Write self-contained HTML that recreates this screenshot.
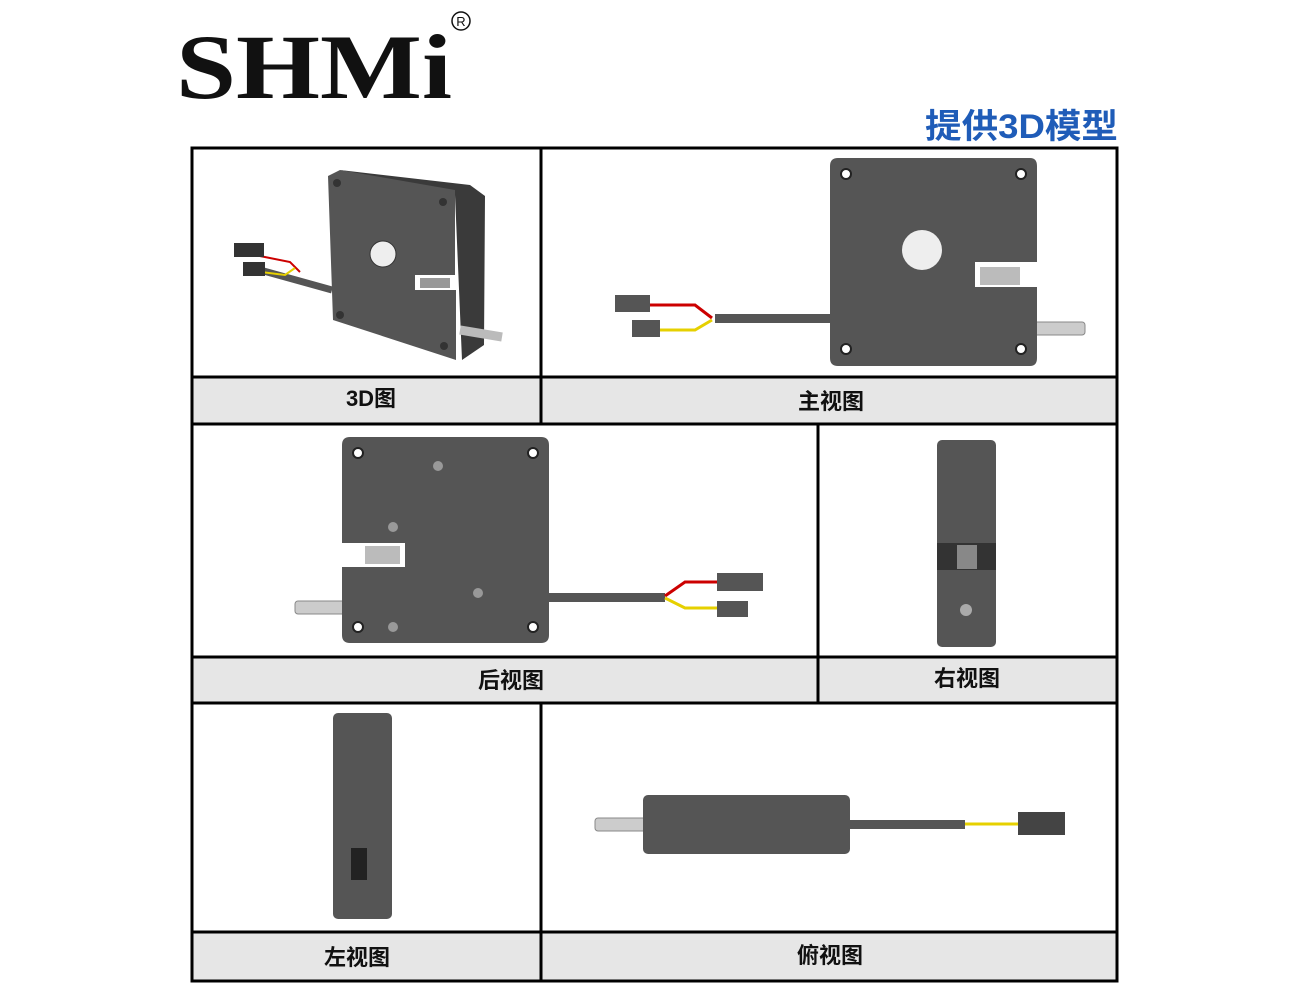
<!DOCTYPE html>
<html><head><meta charset="utf-8"><style>
html,body{margin:0;padding:0;background:#fff;width:1309px;height:1000px;overflow:hidden}
svg{display:block}
</style></head><body>
<svg width="1309" height="1000" viewBox="0 0 1309 1000" xmlns="http://www.w3.org/2000/svg">
<text x="176" y="98" font-family="Liberation Serif, serif" font-weight="bold" font-size="92" fill="#111" textLength="276" lengthAdjust="spacingAndGlyphs">SHMi</text>
<circle cx="461" cy="21" r="9" fill="none" stroke="#111" stroke-width="1.5"/>
<text x="461" y="26" text-anchor="middle" font-family="Liberation Sans, sans-serif" font-size="13" fill="#111">R</text>
<text x="925" y="138" font-family="Liberation Sans, 'Noto Sans CJK SC', sans-serif" font-weight="bold" font-size="34" fill="#1f5cb8" textLength="193" lengthAdjust="spacingAndGlyphs">提供3D模型</text>

<g fill="#e6e6e6">
<rect x="192" y="377" width="925" height="47"/>
<rect x="192" y="657" width="925" height="46"/>
<rect x="192" y="932" width="925" height="48"/>
</g>
<g stroke="#000" stroke-width="3" fill="none">
<rect x="192" y="148" width="925" height="833"/>
<line x1="192" y1="377" x2="1117" y2="377"/>
<line x1="192" y1="424" x2="1117" y2="424"/>
<line x1="192" y1="657" x2="1117" y2="657"/>
<line x1="192" y1="703" x2="1117" y2="703"/>
<line x1="192" y1="932" x2="1117" y2="932"/>
<line x1="541" y1="148" x2="541" y2="424"/>
<line x1="818" y1="424" x2="818" y2="703"/>
<line x1="541" y1="703" x2="541" y2="981"/>
</g>
<g font-family="Liberation Sans, 'Noto Sans CJK SC', sans-serif" font-weight="bold" font-size="22" fill="#111" text-anchor="middle">
<text x="371" y="406">3D图</text>
<text x="831" y="409">主视图</text>
<text x="511" y="688">后视图</text>
<text x="967" y="686">右视图</text>
<text x="357" y="965">左视图</text>
<text x="830" y="963">俯视图</text>
</g>

<!-- 3D view -->
<g>
<line x1="260" y1="270" x2="332" y2="290" stroke="#555" stroke-width="7"/>
<path d="M240 252 L290 262 L300 272" stroke="#c00" stroke-width="2" fill="none"/>
<path d="M245 270 L285 275 L295 268" stroke="#e6d000" stroke-width="2" fill="none"/>
<rect x="234" y="243" width="30" height="14" fill="#333"/>
<rect x="243" y="262" width="22" height="14" fill="#333"/>
<polygon points="340,170 470,185 485,196 484,345 462,360 455,195" fill="#3a3a3a"/>
<polygon points="328,176 340,170 455,190 455,275 415,275 415,290 456,290 456,360 333,320" fill="#555"/>
<circle cx="383" cy="254" r="13" fill="#eee" stroke="#333"/>
<rect x="420" y="278" width="30" height="10" fill="#999"/>
<line x1="460" y1="330" x2="502" y2="337" stroke="#bbb" stroke-width="9"/>
<circle cx="337" cy="183" r="4" fill="#333"/><circle cx="443" cy="202" r="4" fill="#333"/>
<circle cx="340" cy="315" r="4" fill="#333"/><circle cx="444" cy="346" r="4" fill="#333"/>
</g>

<!-- Front view -->
<g>
<rect x="1030" y="322" width="55" height="13" rx="3" fill="#ccc" stroke="#888"/>
<rect x="715" y="314" width="115" height="9" fill="#555"/>
<path d="M650 305 L695 305 L712 318" stroke="#c00" stroke-width="3" fill="none"/>
<path d="M660 330 L695 330 L712 320" stroke="#e6d000" stroke-width="3" fill="none"/>
<rect x="615" y="295" width="35" height="17" fill="#555"/>
<rect x="632" y="320" width="28" height="17" fill="#555"/>
<path d="M838 158 H1030 Q1037 158 1037 166 V262 H975 V287 H1037 V358 Q1037 366 1030 366 H838 Q830 366 830 358 V166 Q830 158 838 158Z" fill="#555"/>
<rect x="980" y="267" width="40" height="18" fill="#bbb"/>
<circle cx="922" cy="250" r="20" fill="#eee"/>
<g fill="#fff" stroke="#222" stroke-width="2"><circle cx="846" cy="174" r="5"/><circle cx="1021" cy="174" r="5"/><circle cx="846" cy="349" r="5"/><circle cx="1021" cy="349" r="5"/></g>
</g>

<!-- Back view -->
<g>
<rect x="295" y="601" width="52" height="13" rx="3" fill="#ccc" stroke="#888"/>
<rect x="549" y="593" width="116" height="9" fill="#555"/>
<path d="M665 596 L685 582 L717 582" stroke="#c00" stroke-width="3" fill="none"/>
<path d="M665 598 L685 608 L717 608" stroke="#e6d000" stroke-width="3" fill="none"/>
<rect x="717" y="573" width="46" height="18" fill="#555"/>
<rect x="717" y="601" width="31" height="16" fill="#555"/>
<path d="M350 437 H541 Q549 437 549 445 V635 Q549 643 541 643 H350 Q342 643 342 635 V567 H405 V543 H342 V445 Q342 437 350 437Z" fill="#555"/>
<rect x="365" y="546" width="35" height="18" fill="#bbb"/>
<g fill="#fff" stroke="#222" stroke-width="2"><circle cx="358" cy="453" r="5"/><circle cx="533" cy="453" r="5"/><circle cx="358" cy="627" r="5"/><circle cx="533" cy="627" r="5"/></g>
<g fill="#999"><circle cx="438" cy="466" r="5"/><circle cx="393" cy="527" r="5"/><circle cx="478" cy="593" r="5"/><circle cx="393" cy="627" r="5"/></g>
</g>

<!-- Right view -->
<g>
<rect x="937" y="440" width="59" height="207" rx="5" fill="#555"/>
<rect x="937" y="543" width="59" height="27" fill="#333"/>
<rect x="957" y="545" width="20" height="24" fill="#888"/>
<circle cx="966" cy="610" r="6" fill="#aaa"/>
</g>

<!-- Left view -->
<g>
<rect x="333" y="713" width="59" height="206" rx="5" fill="#555"/>
<rect x="351" y="848" width="16" height="32" fill="#222"/>
</g>

<!-- Top view -->
<g>
<rect x="595" y="818" width="52" height="13" rx="3" fill="#ccc" stroke="#888"/>
<rect x="850" y="820" width="115" height="9" fill="#555"/>
<line x1="965" y1="824" x2="1018" y2="824" stroke="#e6d000" stroke-width="3"/>
<rect x="1018" y="812" width="47" height="23" fill="#444"/>
<rect x="643" y="795" width="207" height="59" rx="5" fill="#555"/>
</g>
</svg>
</body></html>
